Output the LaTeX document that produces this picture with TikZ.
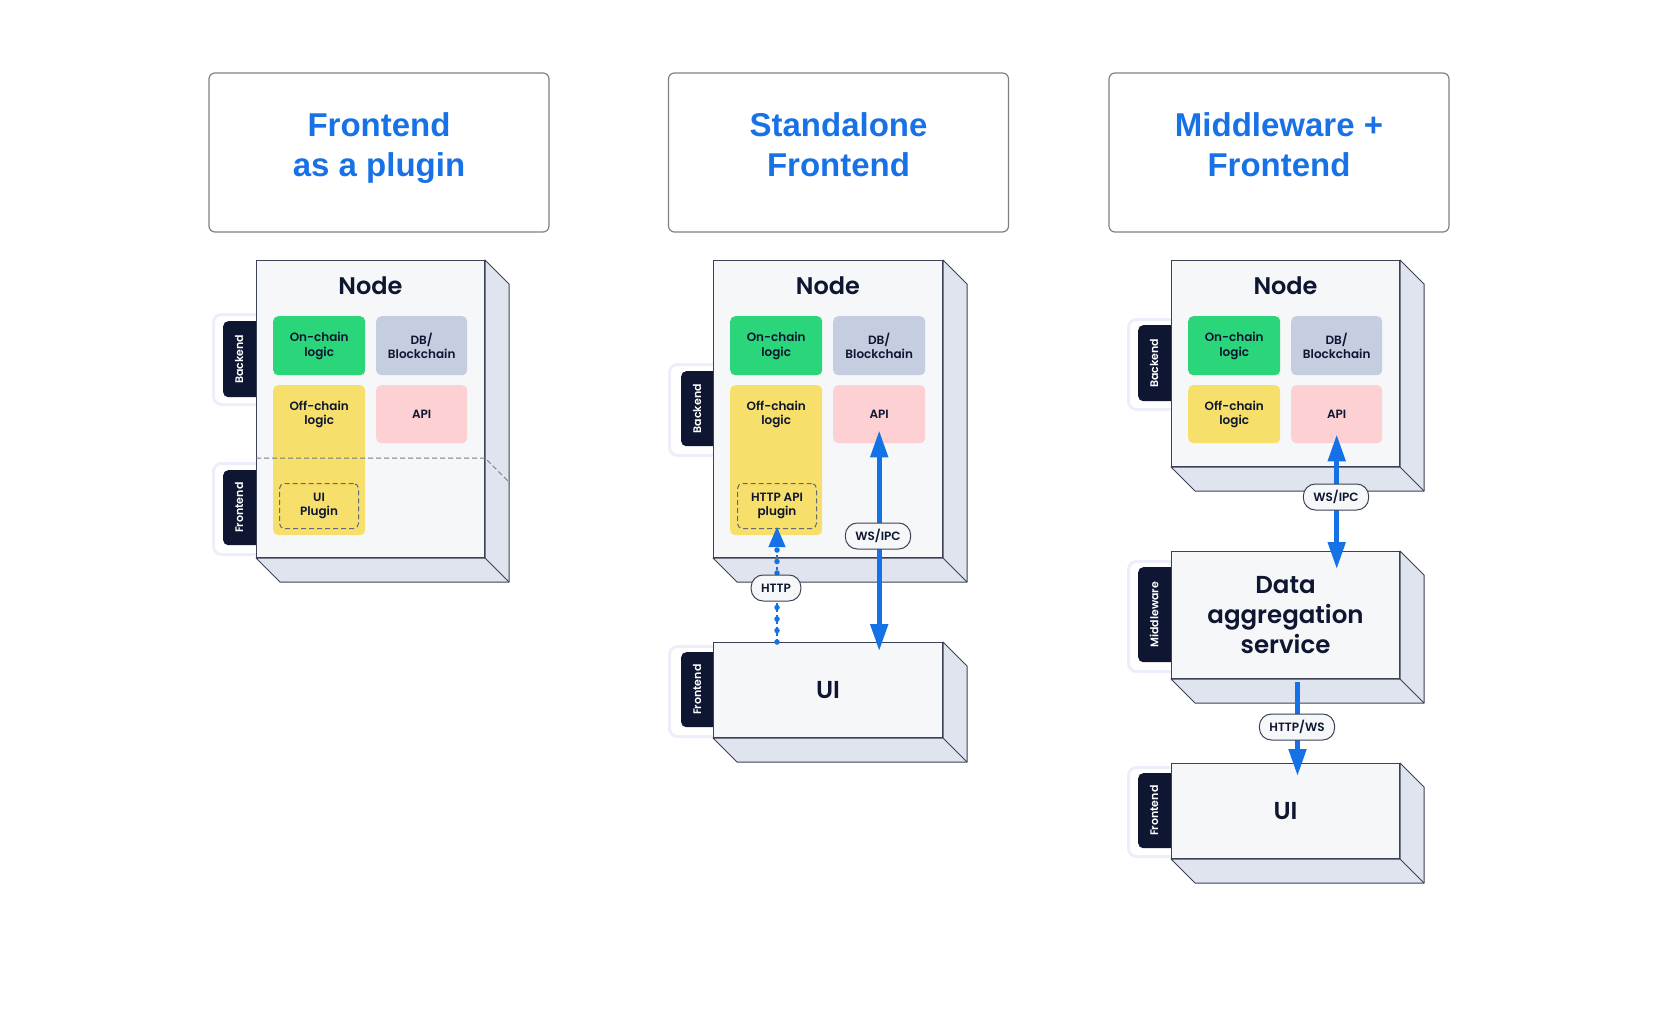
\documentclass[tikz,border=0pt]{standalone}
\usepackage{fontspec}
\setmainfont{Poppins}[BoldFont={Poppins SemiBold}]
\newfontfamily\headfont{Liberation Sans}
\usetikzlibrary{positioning,calc,arrows.meta}

\definecolor{headblue}{HTML}{1872E6}
\definecolor{ink}{HTML}{0E1631}
\definecolor{edge}{HTML}{3B4255}
\definecolor{facefill}{HTML}{F6F7F9}
\definecolor{sidefill}{HTML}{DFE4EF}
\definecolor{chaingreen}{HTML}{2BD67B}
\definecolor{dbgray}{HTML}{C5CDE0}
\definecolor{offyellow}{HTML}{F6E06B}
\definecolor{apipink}{HTML}{FDD0D3}
\definecolor{ringlav}{HTML}{EEEEFB}
\definecolor{linkblue}{HTML}{1472E6}

\begin{document}
\begin{tikzpicture}[x=1pt, y=-1pt,
    heading/.style={rectangle, rounded corners=6pt, draw=gray, line width=1.2pt, minimum width=340pt, minimum height=159pt, align=center, text depth=19pt, text=headblue, font=\headfont\bfseries\fontsize{33}{40}\selectfont},
    face/.style={rectangle, draw=edge, line width=1pt, fill=facefill, anchor=north west, inner sep=0pt, align=center, text=ink, font=\bfseries\fontsize{24.5}{30}\selectfont},
    depth/.style={draw=edge, line width=1pt, fill=sidefill, line join=round},
    boxtitle/.style={anchor=base, text=ink, font=\bfseries\fontsize{24}{28}\selectfont},
    cell/.style={rectangle, rounded corners=5pt, anchor=north west, inner sep=0pt, align=center, text=ink, font=\bfseries\fontsize{12}{14.5}\selectfont},
    celltext/.style={align=center, text=ink, font=\bfseries\fontsize{12}{14.5}\selectfont},
    plugin/.style={cell, draw=edge!80, dash pattern=on 5pt off 3pt, line width=1pt},
    ring/.style={rectangle, rounded corners=8pt, draw=ringlav, line width=3pt, fill=white, anchor=north west},
    tab/.style={rectangle, rounded corners=5pt, fill=ink, text=white, anchor=north west, inner sep=0pt, font=\bfseries\fontsize{11}{11}\selectfont},
    pill/.style={rectangle, rounded corners=12pt, draw=edge, line width=1pt, fill=facefill, minimum height=26pt, inner xsep=10pt, text=ink, font=\bfseries\fontsize{12}{12}\selectfont},
    link/.style={draw=linkblue, line width=5pt, >={Triangle[length=27pt,width=17pt]}},
    httplink/.style={draw=linkblue, line width=1.2pt, dash pattern=on 3pt off 3pt, >={Triangle[length=20pt,width=17pt]}},
    dots/.style={draw=linkblue, line width=5.5pt, line cap=round, dash pattern=on 0pt off 11.5pt},
    split/.style={draw=edge!70, dash pattern=on 5pt off 3pt, line width=1pt}]

\useasboundingbox (0,0) rectangle (1680,1027);

% Headings
\node[heading] (h1) at (379,152.5) {Frontend\strut\\as a plugin\strut};
\node[heading] (h2) at (838.5,152.5) {Standalone\strut\\Frontend\strut};
\node[heading] (h3) at (1279,152.5) {Middleware +\strut\\Frontend\strut};

% Side tabs (drawn first, the boxes cover their right part)
\node[ring, minimum width=54pt, minimum height=90pt] (ringbe1) at (212,313) {};
\node[tab, minimum width=40pt, minimum height=76pt] (be1) at (223,321) {\rotatebox{90}{Backend}\kern8pt};
\node[ring, minimum width=54pt, minimum height=91pt] (ringfe1) at (212,462) {};
\node[tab, minimum width=40pt, minimum height=75pt] (fe1) at (223,470) {\rotatebox{90}{Frontend}\kern8pt};

\node[ring, minimum width=54pt, minimum height=91pt] (ringbe2) at (668,363) {};
\node[tab, minimum width=40pt, minimum height=75pt] (be2) at (681,371) {\rotatebox{90}{Backend}\kern8pt};
\node[ring, minimum width=54pt, minimum height=90pt] (ringfe2) at (668,645) {};
\node[tab, minimum width=40pt, minimum height=75pt] (fe2) at (681,652) {\rotatebox{90}{Frontend}\kern8pt};

\node[ring, minimum width=54pt, minimum height=90pt] (ringbe3) at (1127,318) {};
\node[tab, minimum width=40pt, minimum height=76pt] (be3) at (1138,325) {\rotatebox{90}{Backend}\kern8pt};
\node[ring, minimum width=54pt, minimum height=110pt] (ringmw3) at (1127,560) {};
\node[tab, minimum width=40pt, minimum height=95pt] (mw3) at (1138,567) {\rotatebox{90}{Middleware}\kern8pt};
\node[ring, minimum width=54pt, minimum height=89pt] (ringfe3) at (1127,766) {};
\node[tab, minimum width=40pt, minimum height=75pt] (fe3) at (1138,773) {\rotatebox{90}{Frontend}\kern8pt};

% Front faces
\node[face, minimum width=228pt, minimum height=297pt] (node1) at (256,260) {};
\node[face, minimum width=229pt, minimum height=297pt] (node2) at (713,260) {};
\node[face, minimum width=229pt, minimum height=95pt] (ui2) at (713,642) {UI};
\node[face, minimum width=228pt, minimum height=206pt] (node3) at (1171,260) {};
\node[face, minimum width=228pt, minimum height=127pt] (data3) at (1171,551) {Data\\aggregation\\service};
\node[face, minimum width=228pt, minimum height=95pt] (ui3) at (1171,763) {UI};

% Depth: right side and bottom of every box
\foreach \f in {node1,node2,ui2,node3,data3,ui3} {
    \filldraw[depth] (\f.north east) -- ++(24,24) -- ($(\f.south east)+(24,24)$)
        -- ($(\f.south west)+(24,24)$) -- (\f.south west) -- (\f.south east) -- cycle;
    \draw[depth] (\f.south east) -- ++(24,24);
}

% Box titles
\node[boxtitle] (nt1) at ($(node1.north)+(0,34)$) {Node};
\node[boxtitle] (nt2) at ($(node2.north)+(0,34)$) {Node};
\node[boxtitle] (nt3) at ($(node3.north)+(0,34)$) {Node};

% Panel 1: frontend as a plugin
\node[cell, fill=chaingreen, minimum width=92pt, minimum height=59pt] (on1) at (273,316) {On-chain\\logic};
\node[cell, fill=dbgray, minimum width=91pt, minimum height=59pt] (db1) at (376,316) {DB/\\Blockchain};
\node[cell, fill=offyellow, minimum width=92pt, minimum height=150pt] (off1) at (273,385) {};
\node[cell, fill=apipink, minimum width=91pt, minimum height=58pt] (api1) at (376,385) {API};
\node[celltext] (offt1) at (off1 |- api1) {Off-chain\\logic};
\node[plugin, minimum width=79pt, minimum height=45pt] (plug1) at (279,483) {UI\\Plugin};

\coordinate (cut1) at (256,458);
\draw[split] (cut1) -- (cut1 -| node1.east) -- ++(24,24);

% Panel 2: standalone frontend
\node[cell, fill=chaingreen, minimum width=92pt, minimum height=59pt] (on2) at (730,316) {On-chain\\logic};
\node[cell, fill=dbgray, minimum width=92pt, minimum height=59pt] (db2) at (833,316) {DB/\\Blockchain};
\node[cell, fill=offyellow, minimum width=92pt, minimum height=150pt] (off2) at (730,385) {};
\node[cell, fill=apipink, minimum width=92pt, minimum height=58pt] (api2) at (833,385) {API};
\node[celltext] (offt2) at (off2 |- api2) {Off-chain\\logic};
\node[plugin, minimum width=79pt, minimum height=45pt] (plug2) at (737,483) {HTTP API\\plugin};

\draw[link, <->, shorten <=-13pt, shorten >=-9pt] (api2.south) -- (api2.south |- ui2.north);
\node[pill] (ws2) at (878,536) {WS/IPC};

\draw[httplink, ->, shorten >=-2pt] (plug2.south |- ui2.north) -- (plug2.south);
\draw[dots] (plug2.south |- ui2.north) -- ($(plug2.south)+(0,20)$);
\node[pill] (http2) at (776,588) {HTTP};

% Panel 3: middleware + frontend
\node[cell, fill=chaingreen, minimum width=92pt, minimum height=59pt] (on3) at (1188,316) {On-chain\\logic};
\node[cell, fill=dbgray, minimum width=91pt, minimum height=59pt] (db3) at (1291,316) {DB/\\Blockchain};
\node[cell, fill=offyellow, minimum width=92pt, minimum height=58pt] (off3) at (1188,385) {Off-chain\\logic};
\node[cell, fill=apipink, minimum width=91pt, minimum height=58pt] (api3) at (1291,385) {API};

\draw[link, <->, shorten <=-9pt, shorten >=-18pt] (api3.south) -- (api3.south |- data3.north);
\node[pill] (ws3) at (1336,497) {WS/IPC};

\draw[link, ->, shorten <=3pt, shorten >=-13pt] ($(data3.south)+(12,0)$) -- ($(ui3.north)+(12,0)$);
\node[pill] (hw3) at (1297,727) {HTTP/WS};

\end{tikzpicture}
\end{document}
